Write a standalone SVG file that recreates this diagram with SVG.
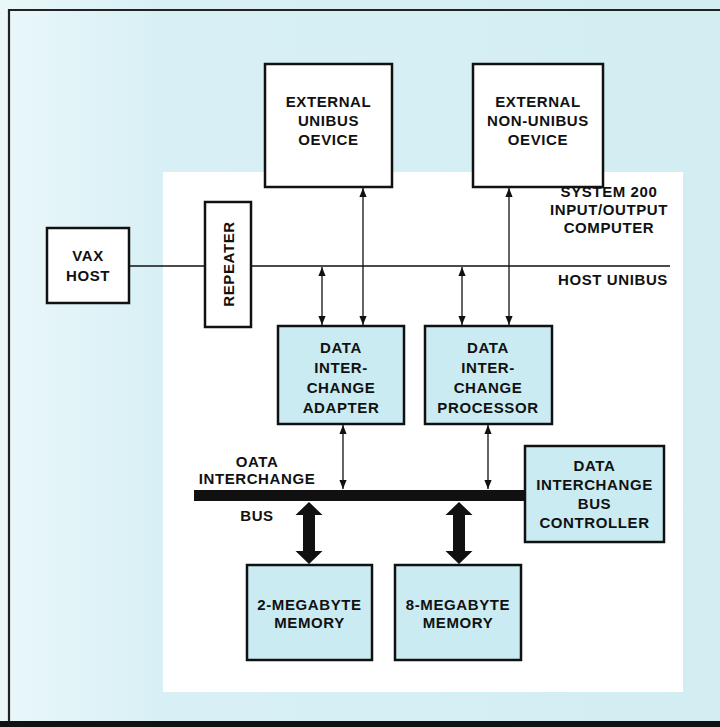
<svg xmlns="http://www.w3.org/2000/svg" width="720" height="727" viewBox="0 0 720 727">
<defs>
<linearGradient id="bg" x1="0" y1="0" x2="1" y2="0">
<stop offset="0" stop-color="#eaf7fa"/>
<stop offset="0.22" stop-color="#d8f0f5"/>
<stop offset="1" stop-color="#d2eef3"/>
</linearGradient>
<marker id="ah" viewBox="0 0 10 10" refX="10" refY="5" markerWidth="9" markerHeight="9" markerUnits="userSpaceOnUse" orient="auto-start-reverse">
<path d="M0,1 L10,5 L0,9 Z" fill="#111"/>
</marker>
<style>
.box{stroke:#111;stroke-width:2.5}
.w{fill:#fff}
.b{fill:#c9ebf1}
text{font-family:"Liberation Sans",Arial,sans-serif;font-weight:bold;font-size:15px;fill:#111;text-anchor:middle;letter-spacing:0.6px}
.ln{stroke:#111;stroke-width:1.4;fill:none}
.ar{stroke:#111;stroke-width:1.3;fill:none;marker-start:url(#ah);marker-end:url(#ah)}
</style>
</defs>
<rect x="0" y="0" width="720" height="727" fill="url(#bg)"/>
<rect x="163" y="172" width="520" height="520" fill="#fff"/>
<path d="M720,10 L9,10 L9,722" fill="none" stroke="#222" stroke-width="2.2"/>
<rect x="0" y="721" width="720" height="6" fill="#111"/>

<g id="connectors">
<line class="ln" x1="129" y1="266" x2="205" y2="266"/>
<line class="ln" x1="251" y1="266" x2="670" y2="266"/>
<line class="ar" x1="363" y1="188" x2="363" y2="325"/>
<line class="ar" x1="509" y1="188" x2="509" y2="325"/>
<line class="ar" x1="322" y1="267" x2="322" y2="325"/>
<line class="ar" x1="462" y1="267" x2="462" y2="325"/>
<line class="ar" x1="343" y1="425" x2="343" y2="489"/>
<line class="ar" x1="488" y1="425" x2="488" y2="489"/>
<rect x="194" y="490" width="331" height="11" fill="#111"/>
<polygon points="309,502 322.5,515 315,515 315,551 322.5,551 309,564 295.5,551 303,551 303,515 295.5,515" fill="#111"/>
<polygon points="459,502 472.5,515 465,515 465,551 472.5,551 459,564 445.5,551 453,551 453,515 445.5,515" fill="#111"/>
</g>

<g id="ext-unibus">
<rect class="box w" x="265" y="64" width="127" height="123"/>
<text x="328.5" y="107">EXTERNAL</text>
<text x="328.5" y="126">UNIBUS</text>
<text x="328.5" y="145">OEVICE</text>
</g>
<g id="ext-nonunibus">
<rect class="box w" x="473" y="64" width="130" height="123"/>
<text x="538" y="107">EXTERNAL</text>
<text x="538" y="126">NON-UNIBUS</text>
<text x="538" y="145">OEVICE</text>
</g>
<g id="vax-host">
<rect class="box w" x="47" y="228" width="82" height="75"/>
<text x="88" y="261">VAX</text>
<text x="88" y="281">HOST</text>
</g>
<g id="repeater">
<rect class="box w" x="205" y="202" width="46" height="125"/>
<text transform="translate(234,264) rotate(-90)" x="0" y="0">REPEATER</text>
</g>
<g id="system-label">
<text x="609" y="197">SYSTEM 200</text>
<text x="609" y="215">INPUT/OUTPUT</text>
<text x="609" y="233">COMPUTER</text>
</g>
<g id="host-unibus-label">
<text x="613" y="285">HOST UNIBUS</text>
</g>
<g id="dia">
<rect class="box b" x="278" y="326" width="126" height="98"/>
<text x="341" y="353">DATA</text>
<text x="341" y="373">INTER-</text>
<text x="341" y="393">CHANGE</text>
<text x="341" y="413">ADAPTER</text>
</g>
<g id="dip">
<rect class="box b" x="425" y="326" width="127" height="98"/>
<text x="488" y="353">DATA</text>
<text x="488" y="373">INTER-</text>
<text x="488" y="393">CHANGE</text>
<text x="488" y="413">PROCESSOR</text>
</g>
<g id="bus-label">
<text x="257" y="467">OATA</text>
<text x="257" y="484">INTERCHANGE</text>
<text x="257" y="521">BUS</text>
</g>
<g id="dibc">
<rect class="box b" x="525" y="446" width="139" height="96"/>
<text x="594.5" y="471">DATA</text>
<text x="594.5" y="490">INTERCHANGE</text>
<text x="594.5" y="509">BUS</text>
<text x="594.5" y="528">CONTROLLER</text>
</g>
<g id="mem2">
<rect class="box b" x="247" y="565" width="125" height="95"/>
<text x="309.5" y="610">2-MEGABYTE</text>
<text x="309.5" y="628">MEMORY</text>
</g>
<g id="mem8">
<rect class="box b" x="395" y="565" width="126" height="95"/>
<text x="458" y="610">8-MEGABYTE</text>
<text x="458" y="628">MEMORY</text>
</g>
</svg>
